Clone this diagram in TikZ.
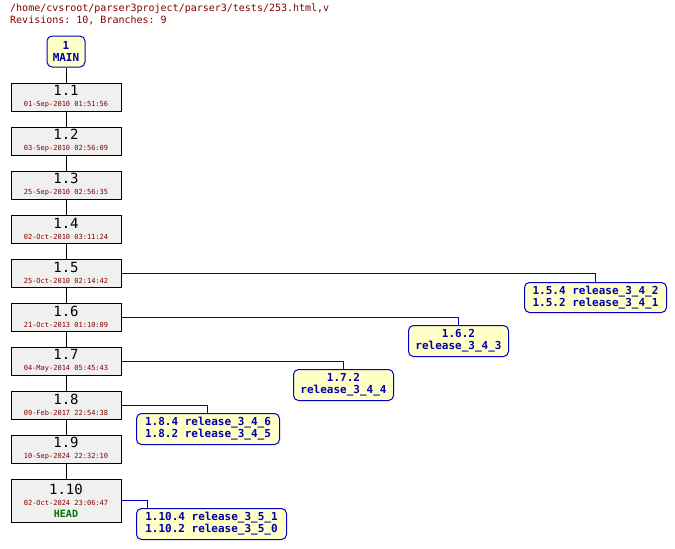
\documentclass[tikz,border=0pt]{standalone}
\usepackage{fontspec}
\setmonofont{DejaVu Sans Mono}
\begin{document}
\begin{tikzpicture}[x=1pt,y=-1pt,font=\ttfamily,
 rev/.style={draw=black,fill={rgb,255:red,240;green,240;blue,240},line width=1pt,minimum width=110pt,inner sep=1pt,align=center},
 br/.style={draw={rgb,255:red,0;green,0;blue,200},fill={rgb,255:red,255;green,255;blue,200},rounded corners=5pt,line width=1pt,inner sep=3pt,align=left,text={rgb,255:red,0;green,0;blue,170},font=\ttfamily\bfseries\fontsize{11}{12}\selectfont},
 ln/.style={draw={rgb,255:red,0;green,0;blue,200},line width=0.6pt}]
\useasboundingbox (0,0) rectangle (675,549);
\definecolor{hdr}{RGB}{128,0,0}
\node[anchor=north west,text=hdr,font=\ttfamily\fontsize{10}{12}\selectfont,align=left,inner sep=0] (h) at (10,4) {/home/cvsroot/parser3project/parser3/tests/253.html,v\\Revisions: 10, Branches: 9};
\node[br,align=center,minimum width=38pt,minimum height=31pt,inner sep=1pt] (m) at (66,51.5) {1\\MAIN};
\newcommand\revbox[4]{\node[rev,minimum height=#4pt] (#1) at (66,#3) {#2};}
\def\lab#1#2{{\fontsize{14}{15}\selectfont #1}\\[-1pt]{\color{hdr}\fontsize{7}{8}\selectfont #2}}
\revbox{r1}{\lab{1.1}{01-Sep-2010 01:51:56}}{97}{28}
\revbox{r2}{\lab{1.2}{03-Sep-2010 02:56:09}}{141}{28}
\revbox{r3}{\lab{1.3}{25-Sep-2010 02:56:35}}{185}{28}
\revbox{r4}{\lab{1.4}{02-Oct-2010 03:11:24}}{229}{28}
\revbox{r5}{\lab{1.5}{25-Oct-2010 02:14:42}}{273}{28}
\revbox{r6}{\lab{1.6}{21-Oct-2013 01:10:09}}{317}{28}
\revbox{r7}{\lab{1.7}{04-May-2014 05:45:43}}{361}{28}
\revbox{r8}{\lab{1.8}{09-Feb-2017 22:54:38}}{405}{28}
\revbox{r9}{\lab{1.9}{10-Sep-2024 22:32:10}}{449}{28}
\revbox{r10}{\lab{1.10}{02-Oct-2024 23:06:47}\\{\bfseries\color{green!45!black}\fontsize{10}{11}\selectfont HEAD}}{500.5}{43}
\foreach \a/\b in {m/r1,r1/r2,r2/r3,r3/r4,r4/r5,r5/r6,r6/r7,r7/r8,r8/r9,r9/r10}
  \draw[line width=0.6pt] (\a.south) -- (\b.north);
\node[br,anchor=north west,minimum width=142pt,minimum height=30pt] (b5) at (524,282) {1.5.4 release\_3\_4\_2\\1.5.2 release\_3\_4\_1};
\node[br,anchor=north west,align=center,minimum width=100pt,minimum height=31pt] (b6) at (408,325) {1.6.2\\release\_3\_4\_3};
\node[br,anchor=north west,align=center,minimum width=100pt,minimum height=31pt] (b7) at (293,369) {1.7.2\\release\_3\_4\_4};
\node[br,anchor=north west,minimum width=143pt,minimum height=31pt] (b8) at (136,413) {1.8.4 release\_3\_4\_6\\1.8.2 release\_3\_4\_5};
\node[br,anchor=north west,minimum width=150pt,minimum height=31pt] (b10) at (136,508) {1.10.4 release\_3\_5\_1\\1.10.2 release\_3\_5\_0};
\draw[ln] (r5.east) -| (b5.north);
\draw[ln] (r6.east) -| (b6.north);
\draw[ln] (r7.east) -| (b7.north);
\draw[ln] (r8.east) -| ([xshift=-0.5pt]b8.north);
\draw[ln] (r10.east) -| ([xshift=-64pt]b10.north);
\end{tikzpicture}
\end{document}
